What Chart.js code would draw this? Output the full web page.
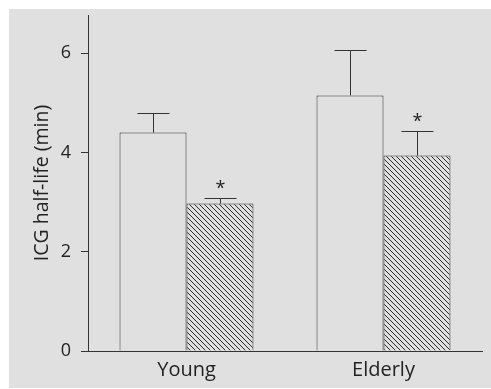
<!DOCTYPE html>
<html>
<head>
<meta charset="utf-8">
<script src="https://cdn.jsdelivr.net/npm/chart.js@4/dist/chart.umd.min.js"></script>
<style>
  html, body { margin: 0; padding: 0; background: #ffffff; }
  #wrap { position: absolute; left: 9px; top: 9px; width: 482px; height: 379px; background: #e0e0e0; }
</style>
</head>
<body>
<div id="wrap"><canvas id="c" width="482" height="379"></canvas></div>
<script>
// ---- data ----
const categories = ["Young", "Elderly"];
const controlValues = [4.40, 5.15];
const controlErrors = [0.39, 0.91];
const treatedValues = [2.97, 3.94];
const treatedErrors = [0.11, 0.50];
const treatedSignificant = [true, true];
const yTickValues = [0, 2, 4, 6];
const yAxisTitle = "ICG half-life (min)";

// ---- hatch pattern ----
function makeHatch() {
  const s = 5;
  const c = document.createElement('canvas');
  c.width = s; c.height = s;
  const g = c.getContext('2d');
  g.fillStyle = '#e0e0e0';
  g.fillRect(0, 0, s, s);
  g.strokeStyle = '#2a2a2a';
  g.lineWidth = 1;
  g.beginPath();
  g.moveTo(-1, -1); g.lineTo(s + 1, s + 1);
  g.moveTo(s - 1, -1); g.lineTo(s + 1, 1);
  g.moveTo(-1, s - 1); g.lineTo(1, s + 1);
  g.stroke();
  return document.getElementById('c').getContext('2d').createPattern(c, 'repeat');
}

const errorBarPlugin = {
  id: 'errorBars',
  afterDatasetsDraw(chart) {
    const ctx = chart.ctx;
    const y = chart.scales.y;
    ctx.save();
    ctx.strokeStyle = '#333';
    ctx.lineWidth = 1;
    chart.data.datasets.forEach((ds, i) => {
      const meta = chart.getDatasetMeta(i);
      meta.data.forEach((bar, j) => {
        const v = ds.data[j];
        const top = y.getPixelForValue(v + ds.errors[j]);
        const base = y.getPixelForValue(v);
        const x = Math.round(bar.x) + 0.5;
        const half = 16;
        ctx.beginPath();
        ctx.moveTo(x, base);
        ctx.lineTo(x, Math.round(top) + 0.5);
        ctx.moveTo(x - half, Math.round(top) + 0.5);
        ctx.lineTo(x + half, Math.round(top) + 0.5);
        ctx.stroke();
        if (ds.significant && ds.significant[j]) {
          ctx.fillStyle = '#222';
          ctx.font = '18px "Open Sans"';
          ctx.textAlign = 'center';
          ctx.textBaseline = 'middle';
          ctx.fillText('*', x, top - 9);
        }
      });
    });
    ctx.restore();
  }
};

new Chart(document.getElementById('c'), {
  type: 'bar',
  data: {
    labels: categories,
    datasets: [
      {
        data: controlValues,
        errors: controlErrors,
        backgroundColor: '#e0e0e0',
        borderColor: '#333',
        borderWidth: 1,
        categoryPercentage: 0.68,
        barPercentage: 1.0
      },
      {
        data: treatedValues,
        errors: treatedErrors,
        significant: treatedSignificant,
        backgroundColor: makeHatch(),
        borderColor: '#333',
        borderWidth: 1,
        categoryPercentage: 0.68,
        barPercentage: 1.0
      }
    ]
  },
  options: {
    responsive: false,
    animation: false,
    events: [],
    layout: { padding: { top: 6, right: 9, bottom: 0, left: 0 } },
    plugins: { legend: { display: false }, tooltip: { enabled: false } },
    scales: {
      x: {
        offset: true,
        grid: { display: false, drawTicks: false },
        border: { display: true, color: '#333', width: 1 },
        ticks: { color: '#222', font: { family: '"Open Sans"', size: 20 }, padding: 7 },
        afterFit(s) { s.height = 37; s.paddingLeft = 0; s.paddingRight = 0; }
      },
      y: {
        min: 0,
        max: 6.77,
        afterBuildTicks(s) { s.ticks = yTickValues.map(v => ({ value: v })); },
        grid: { drawOnChartArea: false, drawTicks: true, tickLength: 7, color: '#333' },
        border: { display: true, color: '#333', width: 1 },
        ticks: { color: '#222', font: { family: '"Open Sans"', size: 18 }, padding: 10 },
        title: {
          display: true,
          text: yAxisTitle,
          color: '#222',
          font: { family: '"Open Sans"', size: 19.5 },
          padding: { top: 22, bottom: 0 }
        },
        afterFit(s) { s.width = 79; s.paddingTop = 0; s.paddingBottom = 0; }
      }
    }
  },
  plugins: [errorBarPlugin]
});
</script>
</body>
</html>
